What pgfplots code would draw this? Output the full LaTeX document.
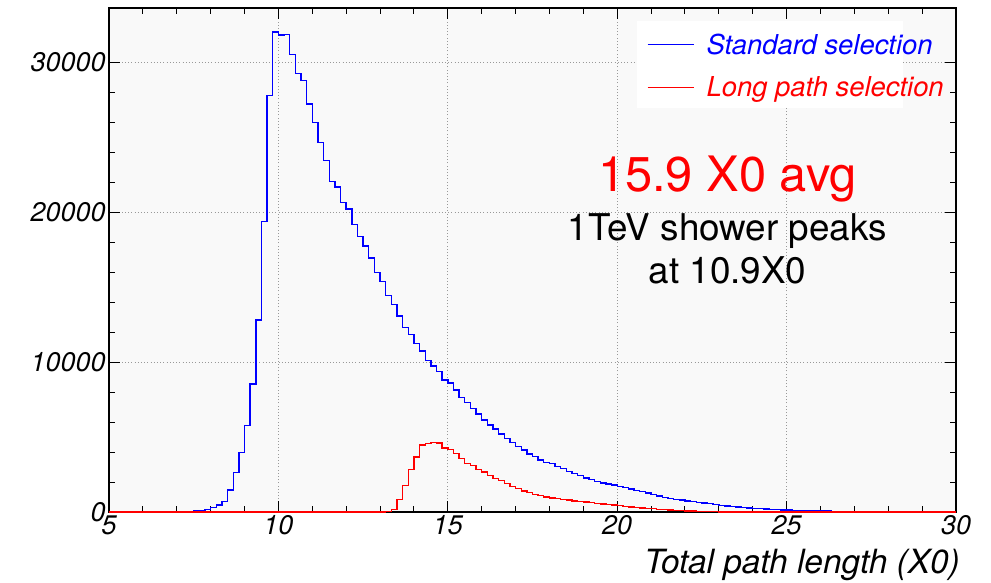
\documentclass[border=0pt]{standalone}
\usepackage{fontspec}
\setmainfont{TeX Gyre Heros}
\usepackage{pgfplots}
\usepackage{pgfplotstable}
\pgfplotsset{compat=1.18}
\definecolor{rootblue}{RGB}{0,0,255}
\definecolor{rootred}{RGB}{255,0,0}
\definecolor{framebg}{RGB}{249,249,249}

\pgfplotstableread{
x std long
5 0 0
7.0000 10 0
7.1667 20 0
7.3333 40 0
7.5000 70 0
7.6667 110 0
7.8333 180 0
8.0000 310 0
8.1667 470 0
8.3333 690 0
8.5000 1470 0
8.6667 2630 0
8.8333 3960 0
9.0000 5770 0
9.1667 8550 0
9.3333 12830 0
9.5000 19390 0
9.6667 27810 0
9.8333 32040 0
10.0000 31860 0
10.1667 31900 0
10.3333 30550 0
10.5000 29260 0
10.6667 28790 0
10.8333 27250 0
11.0000 26010 0
11.1667 24670 0
11.3333 23450 0
11.5000 22070 0
11.6667 21690 0
11.8333 20660 0
12.0000 20220 0
12.1667 19190 0
12.3333 18390 0
12.5000 17770 0
12.6667 16970 0
12.8333 16010 0
13.0000 15380 0
13.1667 14450 30
13.3333 13870 160
13.5000 13090 850
13.6667 12310 1780
13.8333 11870 2850
14.0000 11270 3670
14.1667 10750 4480
14.3333 10110 4570
14.5000 9750 4650
14.6667 9400 4610
14.8333 8820 4280
15.0000 8600 4160
15.1667 8150 3900
15.3333 7660 3560
15.5000 7300 3230
15.6667 6930 3120
15.8333 6550 2830
16.0000 6150 2670
16.1667 5810 2450
16.3333 5540 2230
16.5000 5210 2120
16.6667 4900 1890
16.8333 4630 1710
17.0000 4360 1560
17.1667 4140 1400
17.3333 3870 1290
17.5000 3690 1180
17.6667 3470 1090
17.8333 3290 1000
18.0000 3250 940
18.1667 3030 890
18.3333 2900 840
18.5000 2720 790
18.6667 2560 745
18.8333 2420 705
19.0000 2260 665
19.1667 2150 625
19.3333 2040 585
19.5000 1930 545
19.6667 1870 505
19.8333 1790 465
20.0000 1700 425
20.1667 1620 385
20.3333 1530 345
20.5000 1450 310
20.6667 1360 275
20.8333 1280 245
21.0000 1150 215
21.1667 1060 185
21.3333 980 160
21.5000 920 135
21.6667 850 115
21.8333 790 95
22.0000 740 78
22.1667 700 62
22.3333 640 48
22.5000 590 36
22.6667 550 26
22.8333 490 18
23.0000 440 12
23.1667 400 7
23.3333 360 4
23.5000 330 0
23.6667 300 0
23.8333 270 0
24.0000 240 0
24.1667 220 0
24.3333 200 0
24.5000 180 0
24.6667 160 0
24.8333 140 0
25.0000 130 0
25.1667 120 0
25.3333 110 0
25.5000 100 0
25.6667 90 0
25.8333 80 0
26.0000 70 0
26.1667 60 0
26.3333 50 0
26.5000 40 0
26.6667 25 0
26.8333 15 0
27.0000 10 0
27.1667 5 0
27.3333 0 0
30 0 0
}\histdata

\begin{document}
\begin{tikzpicture}
\path[use as bounding box] (-109bp,-71bp) rectangle (882bp,512bp);
\begin{axis}[
  at={(0,0)}, anchor=south west,
  scale only axis, width=847bp, height=504bp,
  xmin=5, xmax=30, ymin=0, ymax=33650,
  xtick={5,10,15,20,25,30}, minor x tick num=4,
  ytick={0,10000,20000,30000}, minor y tick num=4,
  scaled y ticks=false,
  /pgf/number format/1000 sep={},
  /pgf/number format/assume math mode=true,
  tick label style={font=\fontsize{27}{27}\selectfont\itshape},
  tick align=inside, tick pos=both,
  major tick length=11bp, minor tick length=6bp,
  tick style={black, line width=1bp},
  axis line style={black, line width=1.3bp},
  grid=major,
  major grid style={gray!80, line width=0.8bp, dash pattern=on 0.8bp off 2.4bp},
  axis background/.style={fill=framebg},
  xlabel={Total path length (X0)},
  xlabel style={at={(axis description cs:1,0)}, anchor=base east, inner sep=0pt, xshift=4bp, yshift=-61.3bp, font=\fontsize{33.5}{33.5}\selectfont\itshape},
  legend image code/.code={\draw[#1] (0bp,0bp) -- (46bp,0bp);},
  legend cell align=left,
  legend style={draw=none, fill=none, at={(rel axis cs:0.6348,0.9492)}, anchor=north west,
    inner sep=0pt, nodes={inner sep=0pt}, row sep=21bp, column sep=12.3bp,
    font=\fontsize{27.5}{27.5}\selectfont\itshape},
]
\fill[white] (rel axis cs:0.6234,0.8016) rectangle (rel axis cs:0.9374,0.974);
\addplot[rootblue, line width=1.4bp, const plot, mark=none] table[x=x, y=std] {\histdata};
\addlegendentry{\textcolor{rootblue}{Standard selection}}
\addplot[rootred, line width=1.4bp, const plot, mark=none] table[x=x, y=long] {\histdata};
\addlegendentry{\textcolor{rootred}{Long path selection}}
\node[anchor=base, text=rootred, font=\fontsize{49}{49}\selectfont] at (rel axis cs:0.7302,0.6355) {15.9 X0 avg};
\node[anchor=base, font=\fontsize{37}{37}\selectfont] at (rel axis cs:0.7302,0.5383) {1TeV shower peaks};
\node[anchor=base, font=\fontsize{37}{37}\selectfont] at (rel axis cs:0.7302,0.4538) {at 10.9X0};
\end{axis}
\end{tikzpicture}
\end{document}
